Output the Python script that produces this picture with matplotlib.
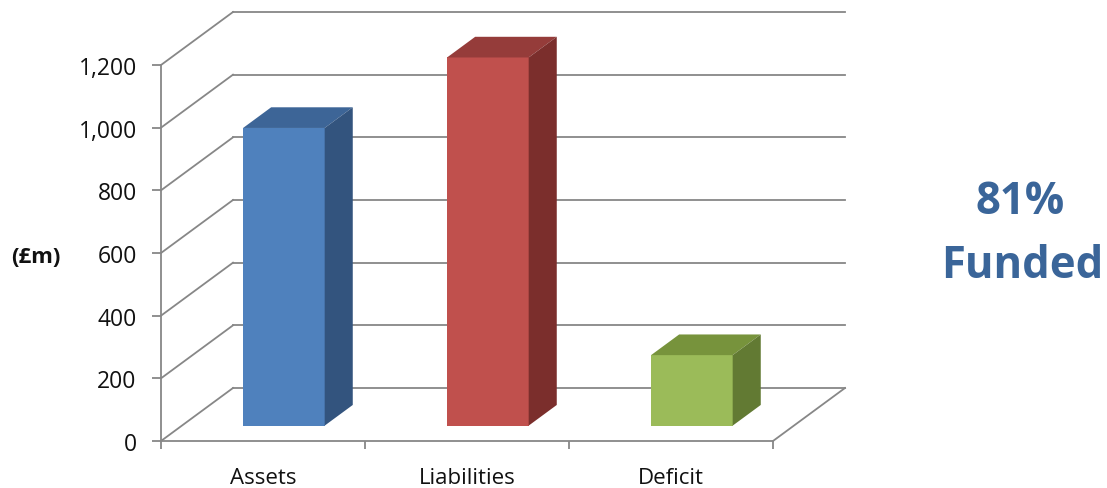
import matplotlib
matplotlib.use('Agg')
import matplotlib.pyplot as plt
from matplotlib.patches import Polygon
from matplotlib.ticker import FuncFormatter

# ---- data ----
categories = ['Assets', 'Liabilities', 'Deficit']
values = [950, 1175, 225]
y_ticks = [0, 200, 400, 600, 800, 1000, 1200]
unit_label = '(£m)'
funded_lines = ['81%', 'Funded']

# ---- style ----
front_colors = ['#4F81BD', '#C0504D', '#9BBB59']
top_colors = ['#3D6597', '#953C3A', '#77933C']
side_colors = ['#33547E', '#7B2E2C', '#627A33']
grid_color = '#878787'
text_blue = '#3A6599'

plt.rcParams['font.family'] = ['Open Sans', 'DejaVu Sans']

W, H, DPI = 1107, 489, 100
fig = plt.figure(figsize=(W / DPI, H / DPI), dpi=DPI)
ax = fig.add_axes([161 / W, 47 / H, 612 / W, 376 / H])
ax.set_xlim(0, len(categories))
ax.set_ylim(0, max(y_ticks))

# depth vector in data units (72 px right, 53 px up)
px_x = 612 / len(categories)
px_y = 376 / max(y_ticks)
DX = 72 / px_x
DY = 53 / px_y

lw = 1.3
# side wall + back wall gridlines
for v in y_ticks:
    ax.plot([0, DX], [v, v + DY], color=grid_color, lw=lw, clip_on=False, zorder=1)
    ax.plot([DX, len(categories) + DX], [v + DY, v + DY], color=grid_color, lw=lw,
            clip_on=False, zorder=1)
# floor right edge
ax.plot([len(categories), len(categories) + DX], [0, DY], color=grid_color, lw=lw,
        clip_on=False, zorder=1)

# bars
f0, f1 = 0.29, 0.68
bw = 0.40
centers = [i + 0.5 + f0 * DX for i in range(len(categories))]
base = f0 * DY
ax.bar(centers, values, width=bw, bottom=base, color=front_colors, zorder=3,
       clip_on=False, linewidth=0)
ddx = (f1 - f0) * DX
ddy = (f1 - f0) * DY
for c, v, tc, sc in zip(centers, values, top_colors, side_colors):
    x0, x1 = c - bw / 2, c + bw / 2
    y0, y1 = base, base + v
    ax.add_patch(Polygon([(x0, y1), (x1, y1), (x1 + ddx, y1 + ddy), (x0 + ddx, y1 + ddy)],
                         closed=True, facecolor=tc, edgecolor='none', zorder=3, clip_on=False))
    ax.add_patch(Polygon([(x1, y0), (x1 + ddx, y0 + ddy), (x1 + ddx, y1 + ddy), (x1, y1)],
                         closed=True, facecolor=sc, edgecolor='none', zorder=3, clip_on=False))

# axes styling
for s in ['top', 'right']:
    ax.spines[s].set_visible(False)
for s in ['left', 'bottom']:
    ax.spines[s].set_color(grid_color)
    ax.spines[s].set_linewidth(lw)
    ax.spines[s].set_zorder(2)

ax.set_yticks(y_ticks)
ax.yaxis.set_major_formatter(FuncFormatter(lambda v, p: f'{int(v):,}'))
ax.tick_params(axis='y', length=6.5, width=lw, color=grid_color, pad=11,
               labelsize=16.5, labelcolor='#111111')

ax.set_xticks(range(len(categories) + 1))
ax.set_xticklabels([''] * (len(categories) + 1))
ax.set_xticks([i + 0.5 for i in range(len(categories))], minor=True)
ax.set_xticklabels(categories, minor=True)
ax.tick_params(axis='x', which='major', length=6, width=lw, color=grid_color)
ax.tick_params(axis='x', which='minor', length=0, pad=19, labelsize=16,
               labelcolor='#111111')

fig.text(36 / W, 1 - 258 / H, unit_label, fontsize=16, fontweight='bold',
         ha='center', va='center', color='#111111')
fig.text(1020 / W, 1 - 203 / H, funded_lines[0], fontsize=31.5, fontweight='bold',
         ha='center', va='center', color=text_blue)
fig.text(1022 / W, 1 - 266 / H, funded_lines[1], fontsize=31.5, fontweight='bold',
         ha='center', va='center', color=text_blue)

fig.savefig('out.png', dpi=DPI, facecolor='white')
